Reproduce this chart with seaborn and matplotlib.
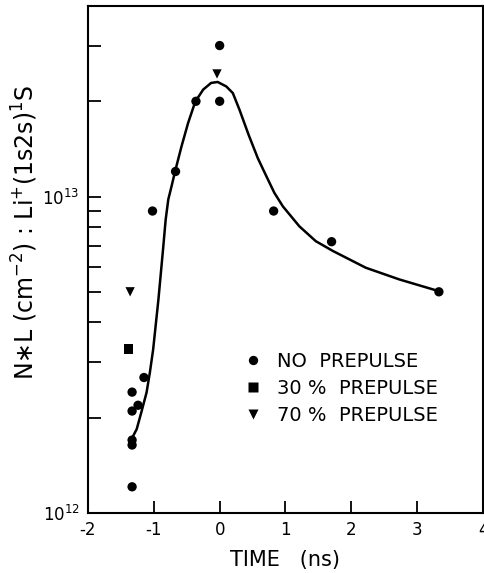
import numpy as np
import pandas as pd
import matplotlib
matplotlib.use('Agg')
import matplotlib.pyplot as plt
import seaborn as sns

# measured points (time in ns, N*L in cm^-2)
no_pre_t = [0.0, 0.0, -0.36, -0.67, -1.02, -1.15, -1.33, -1.24, -1.33, -1.33, -1.33, -1.33, 0.82, 1.70, 3.33]
no_pre_v = [3.0e13, 2.0e13, 2.0e13, 1.2e13, 9.0e12, 2.68e12, 2.41e12, 2.19e12, 2.10e12, 1.70e12, 1.64e12, 1.21e12, 9.0e12, 7.2e12, 5.0e12]
pre30_t = [-1.38]
pre30_v = [3.3e12]
pre70_t = [-1.36, -0.04]
pre70_v = [5.0e12, 2.44e13]

# hand-drawn fit curve (log10 of N*L)
curve_t = [-1.34, -1.26, -1.19, -1.11, -1.06, -1.01, -0.93, -0.86, -0.82, -0.78, -0.73, -0.68, -0.58,
           -0.48, -0.37, -0.25, -0.13, -0.03, 0.10, 0.20, 0.30, 0.44, 0.58, 0.71, 0.83, 0.96, 1.21,
           1.46, 1.72, 2.22, 2.73, 3.33]
curve_log = [12.233, 12.265, 12.318, 12.381, 12.444, 12.517, 12.675, 12.833, 12.927, 12.991, 13.033, 13.077, 13.158,
             13.232, 13.300, 13.338, 13.359, 13.362, 13.348, 13.327, 13.275, 13.195, 13.121, 13.064, 13.012, 12.969, 12.906,
             12.859, 12.828, 12.775, 12.738, 12.701]

labels = ['NO  PREPULSE', '30 %  PREPULSE', '70 %  PREPULSE']

points = pd.DataFrame({
    'time': no_pre_t + pre30_t + pre70_t,
    'value': no_pre_v + pre30_v + pre70_v,
    'group': [labels[0]] * len(no_pre_t) + [labels[1]] * len(pre30_t) + [labels[2]] * len(pre70_t),
})
curve = pd.DataFrame({'time': curve_t, 'value': 10 ** np.array(curve_log)})

sns.set_style('ticks')
plt.rcParams['font.family'] = ['DejaVu Sans']
plt.rcParams.update({'text.color': 'black', 'axes.labelcolor': 'black', 'axes.edgecolor': 'black',
                     'xtick.color': 'black', 'ytick.color': 'black'})

fig = plt.figure(figsize=(4.85, 5.73), dpi=100)
ax = fig.add_axes([0.1814, 0.1047, 0.8145, 0.8848])

sns.lineplot(data=curve, x='time', y='value', sort=False, color='black', linewidth=1.8, ax=ax, legend=False)
sns.scatterplot(data=points, x='time', y='value', style='group',
                markers={labels[0]: 'o', labels[1]: 's', labels[2]: 'v'},
                color='black', s=45, edgecolor='none', ax=ax)

ax.set_yscale('log')
ax.set_xlim(-2, 4)
ax.set_ylim(1e12, 4e13)
ax.set_xticks([-2, -1, 0, 1, 2, 3, 4])
ax.set_xticklabels(['-2', '-1', '0', '1', '2', '3', '4'])
ax.tick_params(axis='both', which='both', direction='in', width=1.3, labelsize=12, pad=6)
ax.tick_params(axis='both', which='major', length=9)
ax.tick_params(axis='y', which='minor', length=9, labelleft=False)
for sp in ax.spines.values():
    sp.set_linewidth(1.5)

ax.set_xlabel('TIME   (ns)', fontsize=15, labelpad=8)
ax.set_ylabel(r'N$\ast$L (cm$^{-2}$) : Li$^{+}$(1s2s)$^{1}$S', fontsize=17)
ax.yaxis.set_label_coords(-0.122, 0.554)

leg = ax.legend(loc='center left', bbox_to_anchor=(0.348, 0.246), frameon=False,
                fontsize=14, handlelength=1.0, handletextpad=0.74, labelspacing=0.4, markerscale=1.0)

fig.savefig('out.png', dpi=100)
